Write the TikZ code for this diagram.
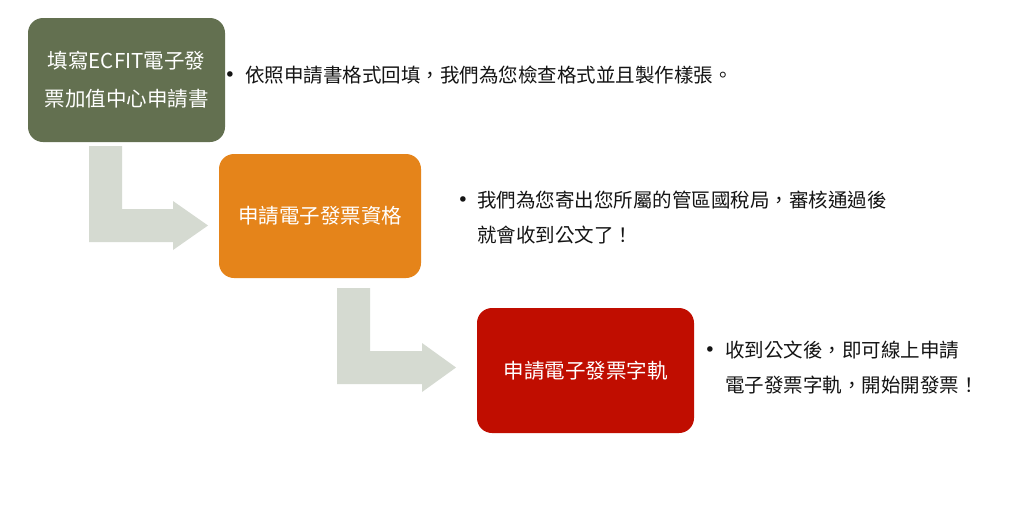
\documentclass[tikz,border=0pt]{standalone}
\usepackage{fontspec}
\setmainfont{Noto Sans CJK TC}
\newfontfamily\bulletfont{DejaVu Sans}
\definecolor{olivebox}{HTML}{637050}
\definecolor{orangebox}{HTML}{E5841A}
\definecolor{redbox}{HTML}{C00D00}
\definecolor{arrowgrey}{HTML}{D5DAD1}
\definecolor{txt}{HTML}{141414}
\begin{document}
\begin{tikzpicture}[x=1pt,y=-1pt,
  stepbox/.style={rounded corners=15pt, inner sep=0pt, text=white, align=center,
    font=\fontsize{20.5}{38}\selectfont},
  bulletmark/.style={text=txt, inner sep=0pt, anchor=base, font=\bulletfont\fontsize{19}{35}\selectfont},
  note/.style={text=txt, inner sep=0pt, anchor=west, align=left, font=\fontsize{19.5}{35}\selectfont},
  blockarrow/.style={fill=arrowgrey}]
\useasboundingbox (0,0) rectangle (1024,512);
\fill[white] (0,0) rectangle (1024,512);

% block arrows
\fill[blockarrow] (89,146) -- (122,146) -- (122,209) -- (173,209) -- (173,201) -- (208,225.5) -- (173,250) -- (173,242) -- (89,242) -- cycle;
\fill[blockarrow] (337,288) -- (370,288) -- (370,351) -- (422,351) -- (422,343) -- (456,367.5) -- (422,392) -- (422,384) -- (337,384) -- cycle;

% boxes
\node[stepbox, fill=olivebox, minimum width=197pt, minimum height=124pt] (b1) at (126.5,80) {填寫ECFIT電子發\\票加值中心申請書};
\node[stepbox, fill=orangebox, minimum width=202pt, minimum height=124pt] (b2) at (320,216) {申請電子發票資格};
\node[stepbox, fill=redbox, minimum width=217pt, minimum height=125pt] (b3) at (585.5,370.5) {申請電子發票字軌};

% notes
\node[bulletmark] (m1) at (230,81.5) {•};
\node[note] (n1) at (245,75) {依照申請書格式回填，我們為您檢查格式並且製作樣張。};
\node[bulletmark] (m2) at (463,206.5) {•};
\node[note] (n2) at (477,217.5) {我們為您寄出您所屬的管區國稅局，審核通過後\\就會收到公文了！};
\node[bulletmark] (m3) at (710,356.5) {•};
\node[note] (n3) at (725,367.5) {收到公文後，即可線上申請\\電子發票字軌，開始開發票！};
\end{tikzpicture}
\end{document}
